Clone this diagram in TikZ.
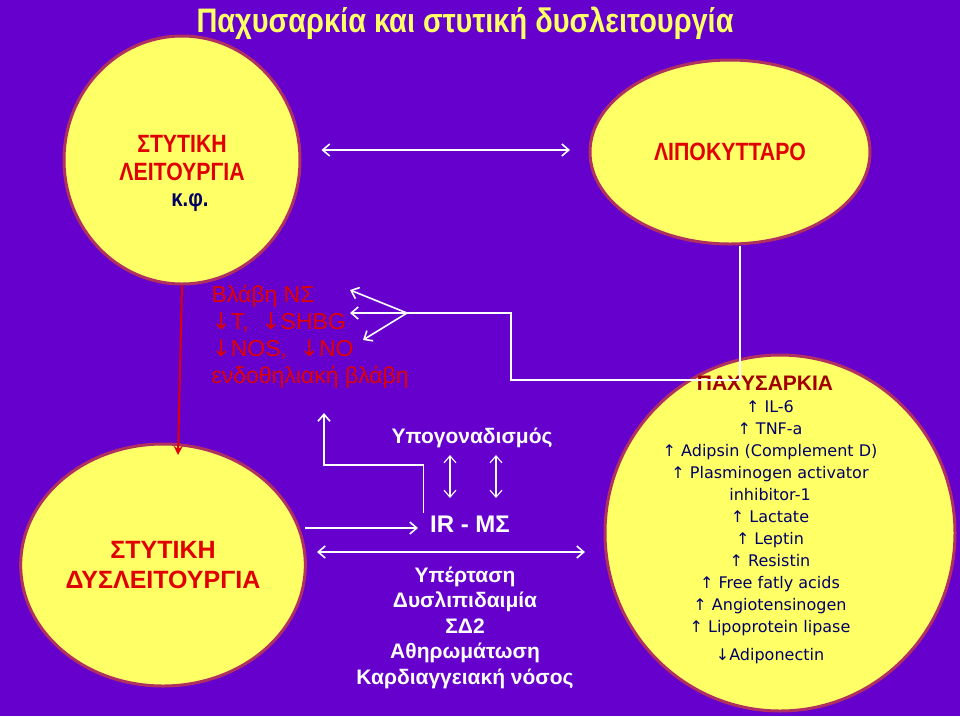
\documentclass[tikz,border=0pt]{standalone}
\usepackage{fontspec}
\setmainfont{Liberation Sans}
\newfontfamily\narrowfont[FakeStretch=0.85]{Liberation Sans}
\newfontfamily\listfont{DejaVu Sans}
\usetikzlibrary{positioning,arrows.meta,shapes.geometric}
\definecolor{bgpurple}{HTML}{6600CC}
\definecolor{cellyellow}{HTML}{FFFF66}
\definecolor{rimred}{HTML}{B03060}
\definecolor{txtred}{HTML}{E00000}
\definecolor{darkred}{HTML}{A00000}
\definecolor{navy}{HTML}{000066}
\newcommand{\dn}{{\listfont ↓}}
\newcommand{\upa}{{\listfont ↑}}

\begin{document}
\begin{tikzpicture}[x=1pt,y=-1pt,
                    cell/.style={ellipse,draw=rimred,line width=3pt,fill=cellyellow,align=center},
                    wline/.style={draw=white,line width=1.6pt},
                    warrow/.style={wline,-{Straight Barb[length=7pt,width=12pt]}},
                    wboth/.style={wline,{Straight Barb[length=7pt,width=12pt]}-{Straight Barb[length=7pt,width=12pt]}},
                    wtext/.style={text=white,font=\bfseries\fontsize{21}{25}\selectfont,align=center},
                    rtext/.style={text=txtred,font=\fontsize{23}{27}\selectfont,align=left,anchor=north west}]
  \fill[bgpurple] (0,0) rectangle (960,716);
  \useasboundingbox (0,0) rectangle (960,716);

  \node[text=cellyellow,font=\narrowfont\bfseries\fontsize{34}{38}\selectfont] (title) at (465,23) {Παχυσαρκία και στυτική δυσλειτουργία};

  % the four cells
  \node[cell,minimum width=236pt,minimum height=248pt] (sf) at (182,160) {};
  \node[text=txtred,font=\narrowfont\bfseries\fontsize{25}{28}\selectfont,align=center] at (182,158) {ΣΤΥΤΙΚΗ\\ΛΕΙΤΟΥΡΓΙΑ};
  \node[text=navy,font=\narrowfont\bfseries\fontsize{24}{28}\selectfont] at (190,203) {κ.φ.};
  \node[cell,minimum width=280pt,minimum height=184pt,text=txtred,font=\narrowfont\bfseries\fontsize{25}{28}\selectfont] (fat) at (730,152) {ΛΙΠΟΚΥΤΤΑΡΟ};
  \node[cell,minimum width=280pt,minimum height=242pt,text=txtred,font=\bfseries\fontsize{25}{30}\selectfont] (ed) at (163,565) {ΣΤΥΤΙΚΗ\\ΔΥΣΛΕΙΤΟΥΡΓΙΑ};
  \node[cell,minimum width=350pt,minimum height=356pt] (obes) at (780,533) {};

  % texts in the middle
  \node[rtext] (harm) at (208,282) {Βλάβη ΝΣ\\\dn T,\ \ \dn SHBG\\\dn NOS,\ \ \dn NO\\ενδοθηλιακή βλάβη};
  \node[wtext] (hypo) at (472,438) {Υπογοναδισμός};
  \node[wtext,font=\bfseries\fontsize{24}{28}\selectfont] (ir) at (470,524) {IR - ΜΣ};
  \node[wtext,anchor=north,font=\bfseries\fontsize{21}{25.5}\selectfont] (dis) at (465,563) {Υπέρταση\\Δυσλιπιδαιμία\\ΣΔ2\\Αθηρωμάτωση\\Καρδιαγγειακή νόσος};

  \node[text=darkred,font=\bfseries\fontsize{21}{24}\selectfont] (obhead) at (765,383) {ΠΑΧΥΣΑΡΚΙΑ};
  \node[text=navy,font=\listfont\fontsize{16}{22}\selectfont,align=center,anchor=north] (oblist) at (770,397)
    {\upa\ IL-6\\\upa\ TNF-a\\\upa\ Adipsin (Complement D)\\\upa\ Plasminogen activator\\inhibitor-1\\\upa\ Lactate\\\upa\ Leptin\\\upa\ Resistin\\\upa\ Free fatly acids\\\upa\ Angiotensinogen\\\upa\ Lipoprotein lipase\\[6pt]\dn Adiponectin};

  % connectors
  \coordinate (fan) at (407,313);
  \draw[wboth] (sf.east |- 0,150) ++(20,0) -- (570,150);
  \draw[txtred,line width=2pt,-{Stealth[length=9pt,width=9pt]}] (sf.south) -- (178,455);
  \draw[wline] (fat.south) ++(10,0) |- (511,380) |- (fan);
  \draw[warrow] (fan) -- (350,290);
  \draw[warrow] (fan) -- (350,313);
  \draw[warrow] (fan) -- (363,340);
  \draw[warrow] (ir.west) ++(-3,-11) |- (324,465) -- (324,413);
  \draw[warrow] (ed.east |- ir) ++(-2,4) -- (418,528);
  \draw[wboth,line width=1.1pt] (450,455) -- (450,498);
  \draw[wboth,line width=1.1pt] (496,455) -- (496,498);
  \draw[wboth] (317,552) -- (585,552);
\end{tikzpicture}
\end{document}
